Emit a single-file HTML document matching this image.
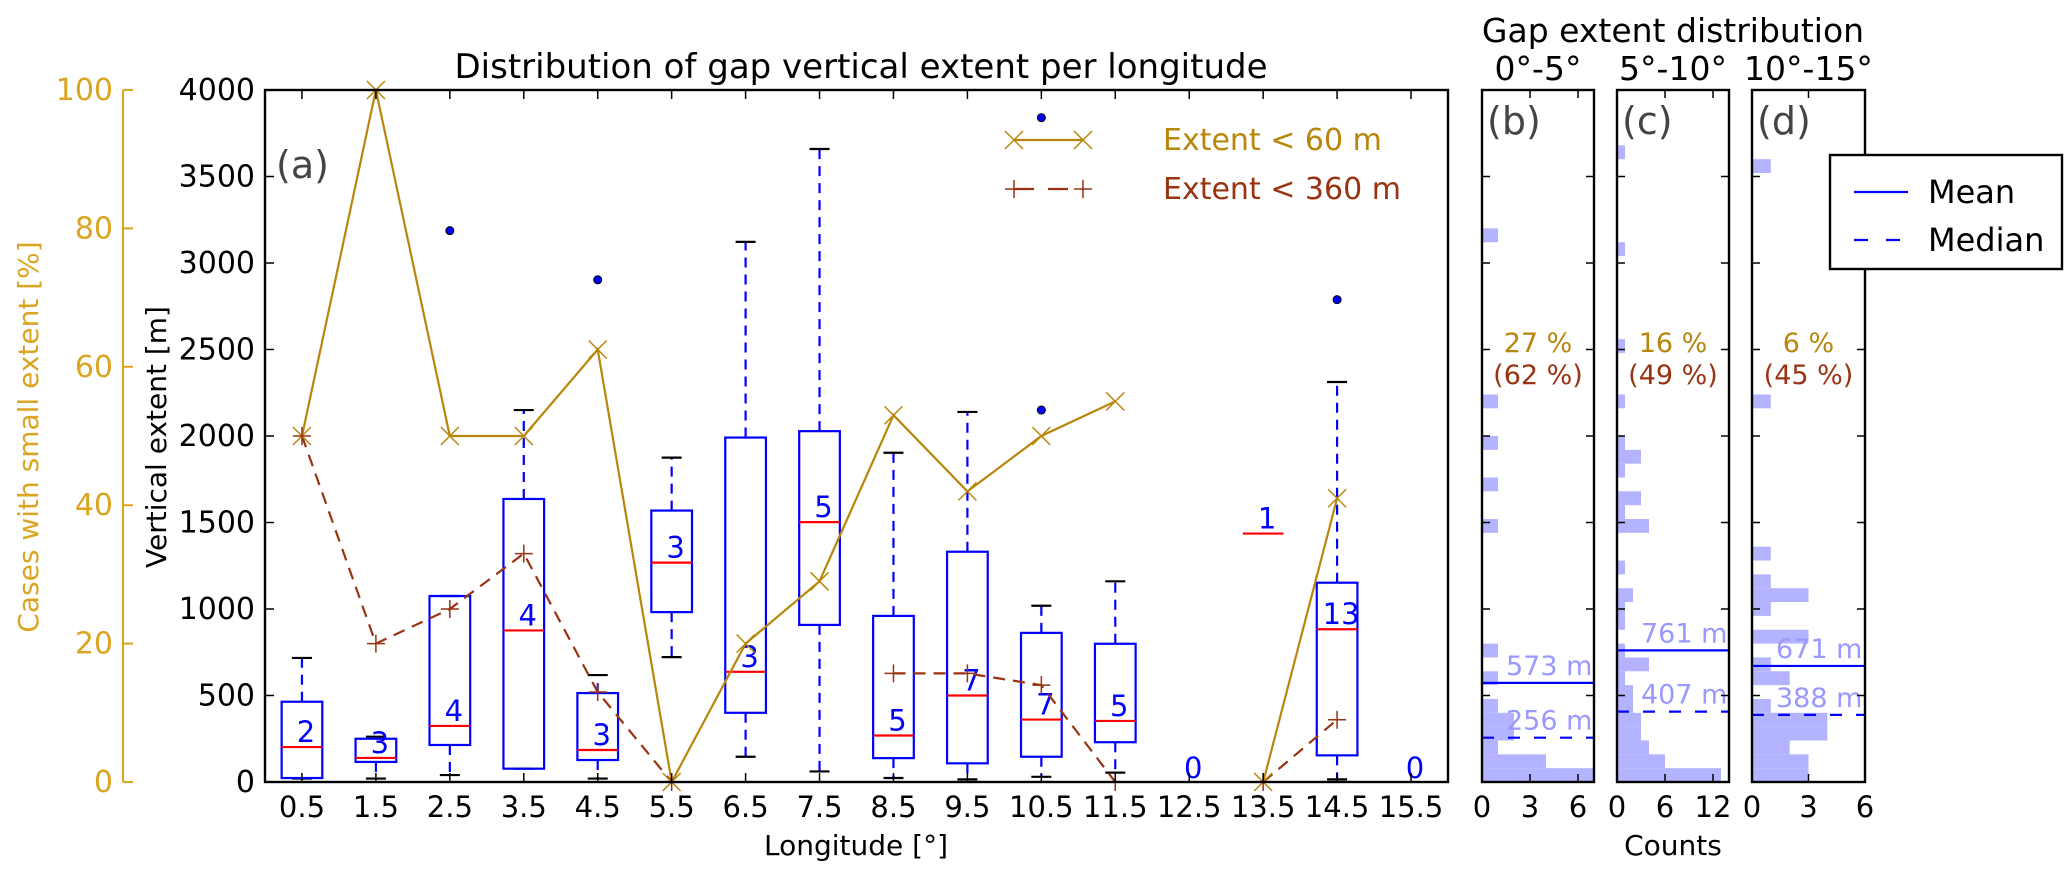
<!DOCTYPE html>
<html><head><meta charset="utf-8">
<style>
html,body{margin:0;padding:0;background:#fff;}
svg{display:block;font-family:"DejaVu Sans","Liberation Sans",sans-serif;}
</style></head>
<body>
<svg id="fig" width="2067" height="876" viewBox="0 0 2067 876" xmlns="http://www.w3.org/2000/svg">
  <rect x="0" y="0" width="2067" height="876" fill="#fff"/>
  <g id="main"></g>
  <g id="panels"></g>
  <text x="861" y="78" font-size="34" text-anchor="middle">Distribution of gap vertical extent per longitude</text>
  <text x="856" y="855" font-size="28" text-anchor="middle">Longitude [°]</text>
  <text transform="translate(166,437) rotate(-90)" font-size="28" text-anchor="middle">Vertical extent [m]</text>
  <text transform="translate(38,437) rotate(-90)" font-size="28" fill="#daa520" text-anchor="middle">Cases with small extent [%]</text>
  <text x="1673" y="42" font-size="33" text-anchor="middle">Gap extent distribution</text>
  <text x="1673" y="855" font-size="28" text-anchor="middle">Counts</text>
</svg>
<script>
// ---------- main chart data ----------
const longitudes = [0.5,1.5,2.5,3.5,4.5,5.5,6.5,7.5,8.5,9.5,10.5,11.5,12.5,13.5,14.5,15.5];
const counts     = [2,3,4,4,3,3,3,5,5,7,7,5,0,1,13,0];
const q1         = [23,116,214,77,127,982,400,908,138,108,146,230,null,null,154,null];
const medians    = [202,139,324,876,185,1268,637,1502,269,500,361,353,null,1436,883,null];
const q3         = [464,250,1075,1636,514,1569,1991,2028,960,1331,862,799,null,null,1152,null];
const whiskLo    = [20,20,40,77,20,722,146,61,23,15,30,54,null,null,15,null];
const whiskHi    = [717,262,1075,2150,618,1875,3122,3659,1903,2139,1019,1160,null,null,2312,null];
const outlierX   = [2.5,4.5,10.5,10.5,14.5];
const outlierV   = [3187,2903,3840,2150,2788];
const pct60      = [50,100,50,50,62.5,0,20,29,53,42,50,55,null,0,41,null];
const pct360     = [50,20,25,33,13,0,null,null,15.7,15.7,14,0,null,0,9,null];
const yTicks     = [0,500,1000,1500,2000,2500,3000,3500,4000];
const pctTicks   = [0,20,40,60,80,100];

// ---------- histogram data (80 m bins: [bin index, count]) ----------
const histB = [[0,7],[1,4],[2,1],[3,2],[4,2],[5,1],[7,1],[9,1],[18,1],[21,1],[24,1],[27,1],[39,1]];
const histC = [[0,13],[1,6],[2,4],[3,3],[4,3],[5,2],[6,2],[7,1],[8,4],[9,1],[11,1],[12,1],[13,2],[15,1],[18,4],[19,1],[20,3],[22,1],[23,3],[24,1],[27,1],[31,1],[38,1],[45,1]];
const histD = [[0,3],[1,3],[2,2],[3,4],[4,4],[5,1],[7,2],[8,1],[10,3],[12,1],[13,3],[14,1],[16,1],[27,1],[44,1]];
const panelMeans   = [573,761,671];
const panelMedians = [256,407,388];
const panelPct60   = ["27 %","16 %","6 %"];
const panelPct360  = ["(62 %)","(49 %)","(45 %)"];
const panelRanges  = ["0°-5°","5°-10°","10°-15°"];
const panelLetters = ["(b)","(c)","(d)"];
const panelXMax    = [7,14,6];
const panelXTicks  = [[0,3,6],[0,6,12],[0,3,6]];

const NS="http://www.w3.org/2000/svg";
function mk(tag, attrs, parent, txt){
  const e=document.createElementNS(NS,tag);
  for(const k in attrs) e.setAttribute(k,attrs[k]);
  if(txt!==undefined) e.textContent=txt;
  parent.appendChild(e); return e;
}
const L=265,R=1448,T=90,B=782,BIN=80;
const X=v=>L+v*(R-L)/16;
const Y=m=>B-m*(B-T)/4000;
const YP=p=>Y(p*40);
const main=document.getElementById('main');
const BW=0.55*(R-L)/16/2;

for(let i=0;i<longitudes.length;i++){
  const cx=X(longitudes[i]);
  if(q1[i]!==null){
    const wl=mk('line',{x1:cx,x2:cx,y1:Y(q1[i]),y2:Y(whiskLo[i]),stroke:'#0000ff','stroke-width':2.2,'stroke-dasharray':'10,7'},main);
    
    
    const wh=mk('line',{x1:cx,x2:cx,y1:Y(q3[i]),y2:Y(whiskHi[i]),stroke:'#0000ff','stroke-width':2.2,'stroke-dasharray':'10,7'},main);
    
    
    const c1=mk('line',{x1:cx-10,x2:cx+10,y1:Y(whiskLo[i]),y2:Y(whiskLo[i]),stroke:'#000','stroke-width':2.2},main);
    
    
    const c2=mk('line',{x1:cx-10,x2:cx+10,y1:Y(whiskHi[i]),y2:Y(whiskHi[i]),stroke:'#000','stroke-width':2.2},main);
    
    
    const bx=mk('rect',{x:cx-BW,y:Y(q3[i]),width:2*BW,height:Y(q1[i])-Y(q3[i]),fill:'none',stroke:'#0000ff','stroke-width':2.2},main);
    
    
  }
  if(medians[i]!==null){
    const md=mk('line',{x1:cx-BW,x2:cx+BW,y1:Y(medians[i]),y2:Y(medians[i]),stroke:'#ff0000','stroke-width':2.2},main);
    
    
    const t=mk('text',{x:cx+4,y:Y(medians[i])-5,'font-size':29,fill:'#0000ff','text-anchor':'middle'},main,String(counts[i]));
    
    
  } else {
    const t=mk('text',{x:cx+4,y:B-4,'font-size':29,fill:'#0000ff','text-anchor':'middle'},main,String(counts[i]));
    
    
  }
}
for(let i=0;i<outlierX.length;i++){
  const o=mk('circle',{cx:X(outlierX[i]),cy:Y(outlierV[i]),r:4,fill:'#0000ff',stroke:'#000','stroke-width':1},main);
  
  
}
function seriesPath(vals){
  let d='',pen=false;
  for(let i=0;i<vals.length;i++){
    if(vals[i]===null){pen=false;continue;}
    d+=(pen?'L':'M')+X(longitudes[i]).toFixed(1)+','+YP(vals[i]).toFixed(1)+' ';pen=true;
  }
  return d;
}
const l60=mk('path',{d:seriesPath(pct60),fill:'none',stroke:'#b8860b','stroke-width':2.2},main);


const l360=mk('path',{d:seriesPath(pct360),fill:'none',stroke:'#993311','stroke-width':2.2,'stroke-dasharray':'12,8'},main);


function xMark(x,y,c,g){mk('path',{d:`M${x-9},${y-9}L${x+9},${y+9}M${x-9},${y+9}L${x+9},${y-9}`,stroke:c,'stroke-width':1.5,fill:'none'},g);}
function pMark(x,y,c,g){mk('path',{d:`M${x-9},${y}L${x+9},${y}M${x},${y-9}L${x},${y+9}`,stroke:c,'stroke-width':1.5,fill:'none'},g);}
for(let i=0;i<longitudes.length;i++){
  if(pct60[i]!==null){
    const g=mk('g',{},main);
    
    
    xMark(X(longitudes[i]),YP(pct60[i]),'#b8860b',g);
  }
  if(pct360[i]!==null){
    const g=mk('g',{},main);
    
    
    pMark(X(longitudes[i]),YP(pct360[i]),'#993311',g);
  }
}
const fr=mk('rect',{x:L,y:T,width:R-L,height:B-T,fill:'none',stroke:'#000','stroke-width':2.4},main);


for(const v of yTicks){
  mk('line',{x1:L,x2:L+9,y1:Y(v),y2:Y(v),stroke:'#000','stroke-width':1.5},main);
  const t=mk('text',{x:L-10,y:Y(v)+10,'font-size':30,'text-anchor':'end'},main,String(v));
  
  
}
for(const v of longitudes){
  mk('line',{x1:X(v),x2:X(v),y1:T,y2:T+9,stroke:'#000','stroke-width':1.5},main);
  mk('line',{x1:X(v),x2:X(v),y1:B,y2:B-9,stroke:'#000','stroke-width':1.5},main);
  const t=mk('text',{x:X(v),y:817,'font-size':29,'text-anchor':'middle'},main,String(v));
  
  
}
const pa=mk('line',{x1:123,x2:123,y1:T,y2:B,stroke:'#daa520','stroke-width':2},main);


for(const p of pctTicks){
  mk('line',{x1:123,x2:133,y1:YP(p),y2:YP(p),stroke:'#daa520','stroke-width':2},main);
  const t=mk('text',{x:113,y:YP(p)+10,'font-size':30,fill:'#daa520','text-anchor':'end'},main,String(p));
  
  
}
const la=mk('text',{x:276,y:178,'font-size':38,fill:'#444'},main,'(a)');


const lg=mk('g',{},main);


mk('line',{x1:1014,x2:1083,y1:140,y2:140,stroke:'#b8860b','stroke-width':2.2},lg);
xMark(1014,140,'#b8860b',lg);xMark(1083,140,'#b8860b',lg);
mk('text',{x:1163,y:150,'font-size':30,fill:'#b8860b'},lg,'Extent < 60 m');
mk('line',{x1:1014,x2:1083,y1:189,y2:189,stroke:'#993311','stroke-width':2.2,'stroke-dasharray':'20,14'},lg);
pMark(1014,189,'#993311',lg);pMark(1083,189,'#993311',lg);
mk('text',{x:1163,y:199,'font-size':30,fill:'#993311'},lg,'Extent < 360 m');

const panels=document.getElementById('panels');
const pL=[1482,1617,1752], pR=[1594,1729,1865];
const hists=[histB,histC,histD];
for(let p=0;p<3;p++){
  const g=mk('g',{},panels);
  
  
  const CX=c=>pL[p]+c*(pR[p]-pL[p])/panelXMax[p];
  for(const [bin,cnt] of hists[p]){
    const r=mk('rect',{x:pL[p],y:Y((bin+1)*BIN),width:CX(cnt)-pL[p],height:Y(bin*BIN)-Y((bin+1)*BIN),fill:'#b3b3ff'},g);
    
    
  }
  const mn=mk('line',{x1:pL[p],x2:pR[p],y1:Y(panelMeans[p]),y2:Y(panelMeans[p]),stroke:'#0000ff','stroke-width':2.2},g);
  
  
  const md=mk('line',{x1:pL[p],x2:pR[p],y1:Y(panelMedians[p]),y2:Y(panelMedians[p]),stroke:'#0000ff','stroke-width':2.2,'stroke-dasharray':'12,14'},g);
  
  
  const t1=mk('text',{x:pL[p]+24,y:Y(panelMeans[p])-8,'font-size':27,fill:'#9999ff'},g,panelMeans[p]+' m');
  
  
  const t2=mk('text',{x:pL[p]+24,y:Y(panelMedians[p])-8,'font-size':27,fill:'#9999ff'},g,panelMedians[p]+' m');
  
  
  mk('rect',{x:pL[p],y:T,width:pR[p]-pL[p],height:B-T,fill:'none',stroke:'#000','stroke-width':2.4},g);
  for(const v of yTicks){
    if(v===0||v===4000) continue;
    mk('line',{x1:pL[p],x2:pL[p]+8,y1:Y(v),y2:Y(v),stroke:'#000','stroke-width':1.5},g);
    mk('line',{x1:pR[p],x2:pR[p]-8,y1:Y(v),y2:Y(v),stroke:'#000','stroke-width':1.5},g);
  }
  for(const c of panelXTicks[p]){
    mk('line',{x1:CX(c),x2:CX(c),y1:B,y2:B-8,stroke:'#000','stroke-width':1.5},g);
    mk('line',{x1:CX(c),x2:CX(c),y1:T,y2:T+8,stroke:'#000','stroke-width':1.5},g);
    const t=mk('text',{x:CX(c),y:817,'font-size':29,'text-anchor':'middle'},g,String(c));
    
    
  }
  const cx=(pL[p]+pR[p])/2;
  const rt=mk('text',{x:cx,y:80,'font-size':33,'text-anchor':'middle'},g,panelRanges[p]);
  
  
  const lt=mk('text',{x:pL[p]+5,y:134,'font-size':38,fill:'#444'},g,panelLetters[p]);
  
  
  const a=mk('text',{x:cx,y:352,'font-size':27,fill:'#b8860b','text-anchor':'middle'},g,panelPct60[p]);
  
  
  const b=mk('text',{x:cx,y:384,'font-size':27,fill:'#993311','text-anchor':'middle'},g,panelPct360[p]);
  
  
}
const ml=mk('g',{},panels);


mk('rect',{x:1830,y:155,width:232,height:114,fill:'#fff',stroke:'#000','stroke-width':2.4},ml);
mk('line',{x1:1854,x2:1908,y1:192,y2:192,stroke:'#0000ff','stroke-width':2.2},ml);
mk('text',{x:1928,y:203,'font-size':32},ml,'Mean');
mk('line',{x1:1854,x2:1908,y1:240,y2:240,stroke:'#0000ff','stroke-width':2.2,'stroke-dasharray':'14,18'},ml);
mk('text',{x:1928,y:251,'font-size':32},ml,'Median');
</script>
</body></html>
